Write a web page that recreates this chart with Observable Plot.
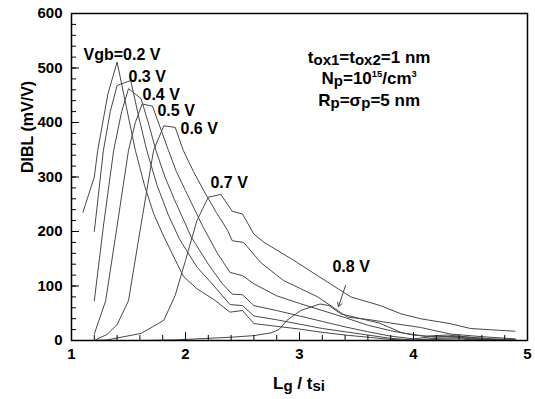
<!DOCTYPE html>
<html><head><meta charset="utf-8">
<script src="https://cdn.jsdelivr.net/npm/d3@7"></script>
<script src="https://cdn.jsdelivr.net/npm/@observablehq/plot@0.6"></script>
<style>body{margin:0;background:#fff} svg{display:block}</style>
</head><body><div id="chart"></div>
<script>
// ---- data ----
const vgb = ["0.2", "0.3", "0.4", "0.5", "0.6", "0.7", "0.8"];

const x02 = [1.10, 1.20, 1.23, 1.32, 1.40, 1.48, 1.56, 1.64, 1.72, 1.80, 1.87, 1.98, 2.10, 2.25, 2.39, 2.50, 2.60, 2.80, 3.00, 3.20, 3.40, 3.60, 3.80, 4.00, 4.20, 4.40, 4.60, 4.90];
const y02 = [235, 300, 349, 453, 511, 430, 349, 285, 233, 195, 165, 118, 95, 75, 52, 55, 31, 26, 21, 15, 10, 6, 2, 0, 2, 3, 0, 0];

const x03 = [1.20, 1.28, 1.34, 1.40, 1.52, 1.59, 1.66, 1.75, 1.85, 1.95, 2.10, 2.25, 2.39, 2.50, 2.60, 2.80, 3.00, 3.20, 3.40, 3.60, 3.80, 4.00, 4.20, 4.40, 4.60, 4.90];
const y03 = [200, 349, 420, 468, 477, 410, 349, 285, 230, 185, 135, 100, 66, 64, 45, 38, 30, 22, 16, 10, 4, 1, 4, 5, 1, 0];

const x04 = [1.20, 1.28, 1.37, 1.44, 1.50, 1.61, 1.68, 1.74, 1.82, 1.90, 2.05, 2.20, 2.32, 2.41, 2.50, 2.60, 2.80, 3.00, 3.20, 3.40, 3.60, 3.80, 4.00, 4.20, 4.40, 4.60, 4.90];
const y04 = [73, 210, 349, 420, 462, 444, 395, 349, 300, 260, 190, 140, 105, 85, 84, 64, 55, 45, 35, 25, 16, 8, 3, 8, 6, 2, 0];

const x05 = [1.20, 1.30, 1.40, 1.50, 1.56, 1.62, 1.71, 1.78, 1.85, 1.92, 2.00, 2.15, 2.28, 2.39, 2.50, 2.60, 2.80, 3.00, 3.20, 3.40, 3.60, 3.80, 4.00, 4.20, 4.40, 4.60, 4.90];
const y05 = [12, 73, 210, 349, 400, 434, 430, 390, 349, 310, 275, 210, 160, 125, 119, 104, 82, 68, 55, 42, 28, 18, 10, 6, 8, 3, 0];

const x06 = [1.20, 1.31, 1.40, 1.50, 1.60, 1.72, 1.81, 1.91, 1.98, 2.07, 2.16, 2.27, 2.37, 2.41, 2.51, 2.66, 2.86, 3.00, 3.16, 3.42, 3.62, 3.80, 4.06, 4.32, 4.60, 4.89];
const y06 = [0, 11, 29, 73, 200, 349, 394, 391, 349, 310, 275, 235, 202, 183, 180, 143, 110, 96, 80, 43, 38, 32, 24, 12, 7, 3];

const x07 = [1.20, 1.31, 1.61, 1.81, 1.91, 2.00, 2.10, 2.20, 2.31, 2.41, 2.50, 2.60, 2.69, 2.95, 3.27, 3.39, 3.45, 3.71, 3.89, 4.06, 4.32, 4.50, 4.89];
const y07 = [0, 1, 13, 37, 83, 147, 220, 263, 268, 237, 232, 195, 180, 147, 104, 88, 80, 64, 49, 40, 31, 22, 17];

const x08 = [1.20, 1.60, 1.90, 2.10, 2.40, 2.60, 2.75, 2.82, 2.89, 3.01, 3.18, 3.26, 3.36, 3.50, 3.70, 3.90, 4.10, 4.30, 4.50, 4.70, 4.90];
const y08 = [0, 0, 1, 3, 6, 9, 14, 20, 37, 55, 67, 64, 49, 42, 32, 14, 8, 10, 6, 3, 2];

const xTicks = [1, 2, 3, 4, 5];
const yTicks = [0, 100, 200, 300, 400, 500, 600];
const xMinorTicks = [1, 1.2, 1.4, 1.6, 1.8, 2, 2.2, 2.4, 2.6, 2.8, 3, 3.2, 3.4, 3.6, 3.8, 4, 4.2, 4.4, 4.6, 4.8, 5];
const yMinorTicks = d3.range(0, 601, 20);

const curveLabels = ["Vgb=0.2 V", "0.3 V", "0.4 V", "0.5 V", "0.6 V", "0.7 V", "0.8 V"];
const labelX = [1.105, 1.50, 1.623, 1.754, 1.956, 2.219, 3.289];
const labelY = [525, 484, 450, 422, 389, 290, 136];

const arrowFrom = [3.404, 101];
const arrowTo = [3.342, 62];

const yLabel = "DIBL (mV/V)";

// ---- build table ----
const seriesX = [x02, x03, x04, x05, x06, x07, x08];
const seriesY = [y02, y03, y04, y05, y06, y07, y08];
const rows = vgb.flatMap((v, k) => seriesX[k].map((x, i) => ({v, x, y: seriesY[k][i]})));
const labels = curveLabels.map((t, i) => ({t, x: labelX[i], y: labelY[i]}));

// ---- layout ----
const W = 535, H = 399, mL = 71, mR = 8, mT = 13, mB = 59;
const pW = W - mL - mR, pH = H - mT - mB;
const FONT = "'Liberation Sans', Arial, Helvetica, sans-serif";

const plot = Plot.plot({
  width: W, height: H,
  marginLeft: mL, marginRight: mR, marginTop: mT, marginBottom: mB,
  style: {fontFamily: FONT, fontSize: "15px", fontWeight: "bold", background: "#fff", color: "#000", overflow: "visible"},
  x: {domain: [1, 5]},
  y: {domain: [0, 600]},
  marks: [
    Plot.line(rows, {x: "x", y: "y", z: "v", stroke: "#484848", strokeWidth: 1}),
    Plot.tickY(yMinorTicks, {y: d => d, insetRight: pW - 5, stroke: "#000"}),
    Plot.tickY(yTicks, {y: d => d, insetRight: pW - 8, stroke: "#000"}),
    Plot.tickX(xMinorTicks, {x: d => d, insetTop: pH - 5, stroke: "#000"}),
    Plot.tickX(xTicks, {x: d => d, insetTop: pH - 8, stroke: "#000"}),
    Plot.axisY(yTicks, {tickSize: 0, tickPadding: 9, label: null, tickFormat: d3.format("d"), fontSize: 15, fontWeight: "bold"}),
    Plot.axisX(xTicks, {tickSize: 0, tickPadding: 8, label: null, tickFormat: d3.format("d"), fontSize: 15, fontWeight: "bold"}),
    Plot.frame({stroke: "#000", strokeWidth: 1.5}),
    Plot.text(labels, {x: "x", y: "y", text: "t", textAnchor: "start", fontSize: 16, fontWeight: "bold", fill: "#000"}),
    Plot.arrow([0], {x1: () => arrowFrom[0], y1: () => arrowFrom[1], x2: () => arrowTo[0], y2: () => arrowTo[1], stroke: "#444", strokeWidth: 1, headLength: 7}),
    Plot.text([yLabel], {frameAnchor: "left", text: d => d, rotate: -90, dx: -44, dy: -4, fontSize: 16, fontWeight: "bold", fill: "#000"})
  ]
});

document.getElementById("chart").appendChild(plot);

// ---- rich-text annotations (subscripts / superscripts) ----
const svg = d3.select(plot);
const sx = plot.scale("x"), sy = plot.scale("y");

function rich(x, y, parts, size) {
  const t = svg.append("text").attr("x", x).attr("y", y)
    .style("font-family", FONT).style("font-weight", "bold").style("font-size", size + "px").attr("fill", "#000");
  let shift = 0;
  for (const [str, kind] of parts) {
    const ts = t.append("tspan").text(str);
    let target = 0, fs = size;
    if (kind === "sub") { target = 2; fs = size - 2; }
    if (kind === "sup") { target = -7; fs = size * 0.55; }
    ts.style("font-size", fs + "px").attr("dy", target - shift);
    shift = target;
  }
  return t;
}

const annX = sx.apply(3.615);
rich(annX, sy.apply(508), [["t"], ["ox1", "sub"], ["=t"], ["ox2", "sub"], ["=1 nm"]], 17);
rich(annX, sy.apply(470), [["N"], ["p", "sub"], ["=10"], ["15", "sup"], ["/cm"], ["3", "sup"]], 17);
rich(annX, sy.apply(430), [["R"], ["p", "sub"], ["=σ"], ["p", "sub"], ["=5 nm"]], 17);

const xl = rich((mL + W - mR) / 2, 389, [["L"], ["g", "sub"], [" / t"], ["si", "sub"]], 17);
xl.attr("text-anchor", "middle");
</script>
</body></html>
